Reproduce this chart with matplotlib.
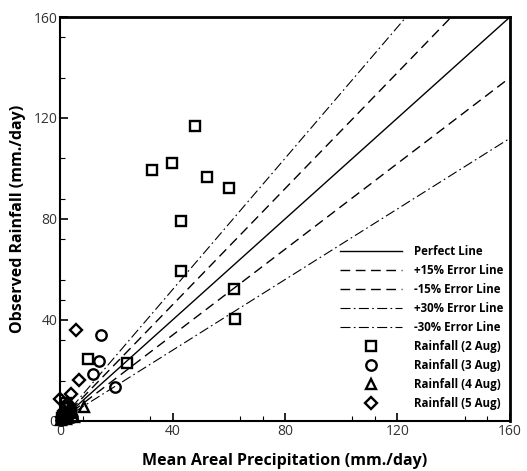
import matplotlib
matplotlib.use('Agg')
import matplotlib.pyplot as plt
import numpy as np

# data (mm/day)
sq_x = [48.0, 39.9, 32.8, 52.1, 60.0, 42.9, 43.0, 61.9, 62.1, 9.8, 23.9, 2.5, 1.5, 3.8, 0.8, 2.0]
sq_y = [116.8, 102.3, 99.5, 96.6, 92.3, 79.3, 59.4, 52.4, 40.4, 24.7, 22.8, 5.5, 2.0, 3.0, 1.0, 7.0]

ci_x = [14.7, 13.7, 11.6, 19.6, 1.0, 2.5, 3.5, 0.5, 4.2, 1.8]
ci_y = [34.1, 23.6, 18.5, 13.6, 2.5, 1.0, 4.5, 0.3, 1.5, 5.0]

tr_x = [8.5, 3.0, 5.0, 1.2, 2.2, 4.0, 0.5]
tr_y = [5.7, 3.5, 1.5, 2.0, 0.8, 6.0, 0.5]

di_x = [5.7, 6.8, 3.9, 0.0, 1.5, 2.8, 0.6, 3.3]
di_y = [36.0, 16.2, 10.6, 8.7, 4.0, 2.0, 1.5, 6.5]

major_ticks = [0, 40, 80, 120, 160]
x_minor = [8, 32, 64, 72, 104, 112, 144, 152]
y_minor = [16, 32, 48, 56, 72, 88, 104, 136, 152]

plt.rcParams['font.family'] = ['Open Sans', 'DejaVu Sans']

fig = plt.figure(figsize=(5.27, 4.71), dpi=100)
ax = fig.add_axes([0.1139, 0.1062, 0.8538, 0.8577])

xx = np.array([0, 160])
ax.plot(xx, xx, '-', color='black', lw=1.0, label='Perfect Line')
ax.plot(xx, 1.15 * xx, color='black', lw=1.0, dashes=(7, 4), label='+15% Error Line')
ax.plot(xx, 0.85 * xx, color='black', lw=1.0, dashes=(7, 4), label='-15% Error Line')
ax.plot(xx, 1.30 * xx, color='black', lw=0.8, dashes=(9, 3, 1.5, 3), label='+30% Error Line')
ax.plot(xx, 0.70 * xx, color='black', lw=0.8, dashes=(9, 3, 1.5, 3), label='-30% Error Line')

mk = dict(linestyle='none', markerfacecolor='none', markeredgecolor='black',
          markeredgewidth=1.7, clip_on=False)
ax.plot(sq_x, sq_y, marker='s', markersize=7, label='Rainfall (2 Aug)', **mk)
ax.plot(ci_x, ci_y, marker='o', markersize=7.5, label='Rainfall (3 Aug)', **mk)
ax.plot(tr_x, tr_y, marker='^', markersize=7.5, label='Rainfall (4 Aug)', **mk)
ax.plot(di_x, di_y, marker='D', markersize=6.5, label='Rainfall (5 Aug)', **mk)

ax.set_xlim(0, 160)
ax.set_ylim(0, 160)
ax.set_xticks(major_ticks)
ax.set_yticks(major_ticks)
ax.set_xticks(x_minor, minor=True)
ax.set_yticks(y_minor, minor=True)
ax.tick_params(which='major', direction='in', length=6, width=1.2, labelsize=10,
               labelcolor='#333333', pad=2)
ax.tick_params(which='minor', direction='in', length=3.5, width=0.8)
for s in ax.spines.values():
    s.set_linewidth(1.5)
ax.spines['top'].set_linewidth(2)
ax.spines['right'].set_linewidth(2)

ax.set_xlabel('Mean Areal Precipitation (mm./day)', fontsize=11.5, fontweight='bold', labelpad=10)
ax.set_ylabel('Observed Rainfall (mm./day)', fontsize=11.5, fontweight='bold', labelpad=5)

leg = ax.legend(loc='lower right', bbox_to_anchor=(1.0, 0.01), frameon=False,
                fontsize=8.3, handlelength=5.4, handletextpad=1.0, labelspacing=0.52,
                numpoints=1, borderaxespad=0.2)
for t in leg.get_texts():
    t.set_fontweight('bold')

fig.savefig('out.png', dpi=100)
